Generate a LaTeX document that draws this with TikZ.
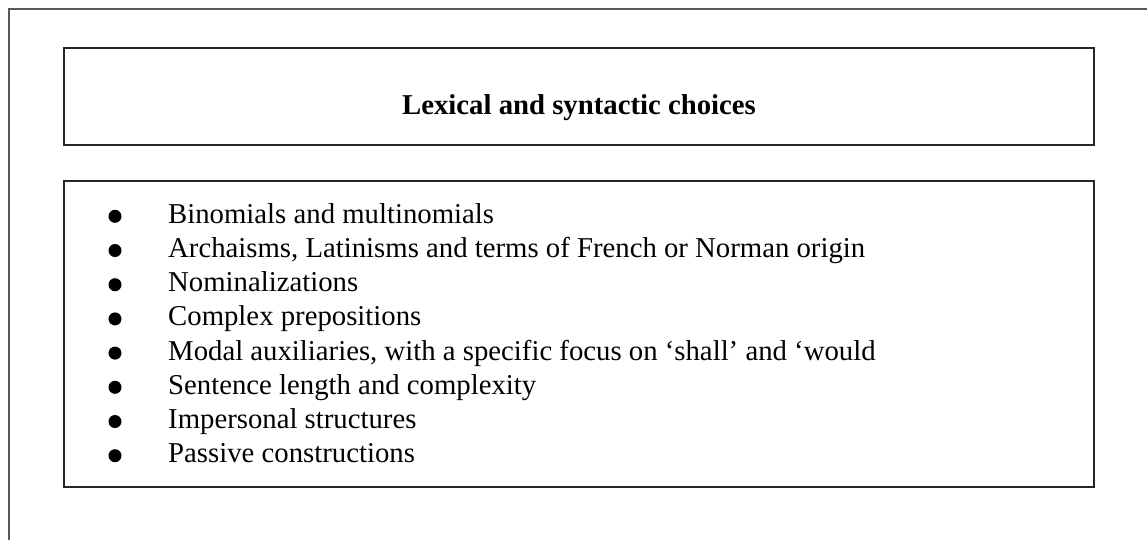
\documentclass[tikz,border=0pt]{standalone}
\usepackage{fontspec}
\setmainfont{Liberation Serif}
\begin{document}
\begin{tikzpicture}[x=1pt,y=-1pt,
  frameline/.style={draw=black!65,line width=2pt},
  boxline/.style={draw=black!85,line width=2pt},
  itemtext/.style={anchor=base west,inner sep=0pt,font=\fontsize{28.75}{34}\selectfont},
  titletext/.style={anchor=base,inner sep=0pt,font=\fontsize{28.75}{34}\selectfont\bfseries},
  dot/.style={fill=black,draw=none}]
\useasboundingbox (0,0) rectangle (1147,539);
\fill[white] (0,0) rectangle (1147,539);
% outer frame running off the right and bottom edges
\draw[frameline] (9,560) -- (9,9) -- (1170,9);
% heading box
\draw[boxline] (64,48) rectangle (1094,145);
\node[titletext] (title) at (579,114) {Lexical and syntactic choices};
% list box
\draw[boxline] (64,181) rectangle (1094,487);
\foreach \t [count=\i from 0] in {
  Binomials and multinomials,
  {Archaisms, Latinisms and terms of French or Norman origin},
  Nominalizations,
  Complex prepositions,
  {Modal auxiliaries, with a specific focus on ‘shall’ and ‘would},
  Sentence length and complexity,
  Impersonal structures,
  Passive constructions}{
  \pgfmathsetmacro{\yb}{223.3+34.2*\i}
  \fill[dot] (115,\yb-7) circle (6.5);
  \node[itemtext] (item\i) at (168,\yb) {\t};
}
\end{tikzpicture}
\end{document}
